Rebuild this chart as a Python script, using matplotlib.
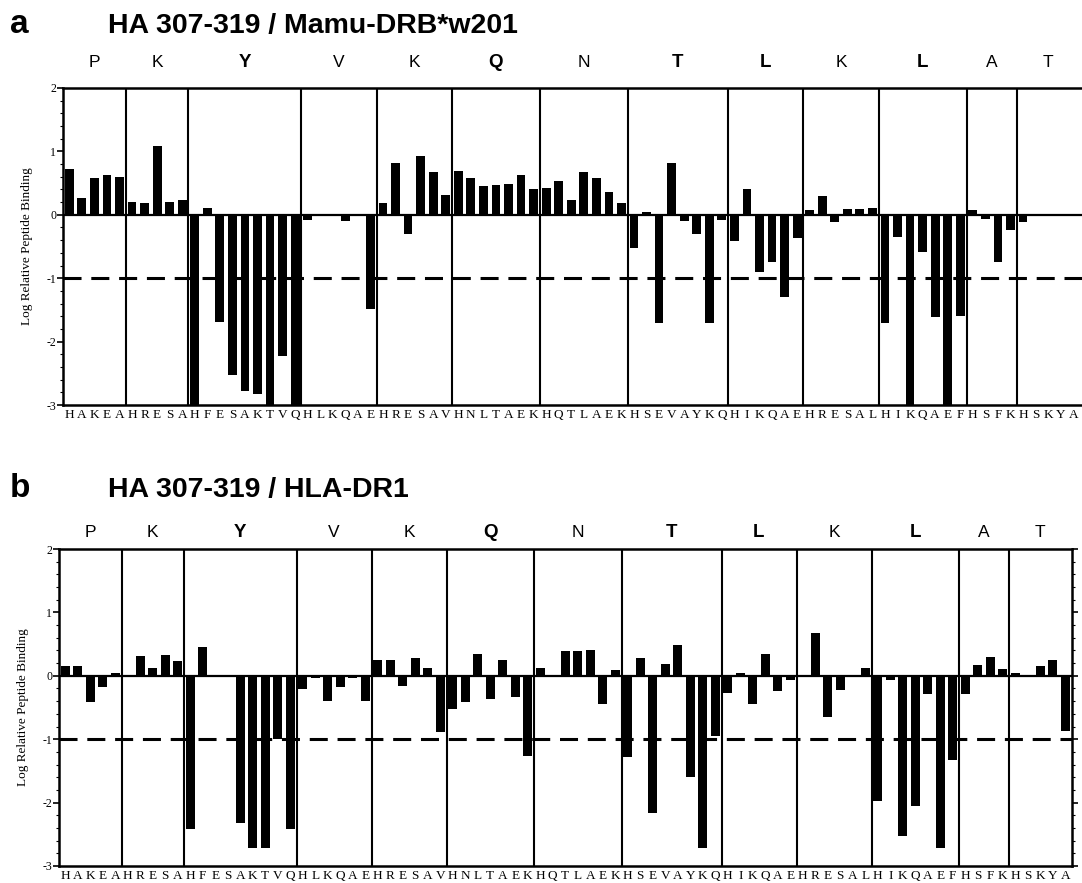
import matplotlib
matplotlib.use("Agg")
import matplotlib.pyplot as plt
import matplotlib.transforms as mtransforms
from matplotlib.ticker import MultipleLocator
import numpy as np

# ---------------- data ----------------
positions = ["P", "K", "Y", "V", "K", "Q", "N", "T", "L", "K", "L", "A", "T"]
anchor_bold = [False, False, True, False, False, True, False, True, True, False, True, False, False]
substitutions = ["HAKEA", "HRESA", "HFESAKTVQ", "HLKQAE", "HRESAV", "HNLTAEK", "HQTLAEK",
                 "HSEVAYKQ", "HIKQAE", "HRESAL", "HIKQAEF", "HSFK", "HSKYA"]

mamu_values = [
    0.73, 0.26, 0.58, 0.62, 0.60,
    0.20, 0.18, 1.09, 0.20, 0.24,
    -3.0, 0.10, -1.69, -2.53, -2.78, -2.83, -3.0, -2.23, -3.0,
    -0.08, 0.0, 0.02, -0.10, 0.0, -1.48,
    0.18, 0.81, -0.31, 0.93, 0.68, 0.32,
    0.69, 0.58, 0.45, 0.47, 0.49, 0.62, 0.41,
    0.43, 0.53, 0.24, 0.68, 0.58, 0.36, 0.18,
    -0.52, 0.05, -1.70, 0.81, -0.10, -0.31, -1.70, -0.08,
    -0.41, 0.41, -0.91, -0.75, -1.30, -0.36,
    0.07, 0.29, -0.11, 0.09, 0.09, 0.11,
    -1.70, -0.35, -3.0, -0.59, -1.61, -3.0, -1.60,
    0.07, -0.06, -0.74, -0.24,
    -0.12, 0.0, 0.02, -0.01, 0.02,
]

dr1_values = [
    0.16, 0.16, -0.41, -0.17, 0.05,
    0.0, 0.31, 0.13, 0.33, 0.24,
    -2.42, 0.46, 0.0, 0.0, -2.32, -2.72, -2.72, -1.0, -2.42,
    -0.21, -0.04, -0.40, -0.18, -0.04, -0.40,
    0.25, 0.25, -0.16, 0.28, 0.13, -0.88,
    -0.52, -0.41, 0.34, -0.36, 0.25, -0.34, -1.26,
    0.13, 0.0, 0.39, 0.39, 0.41, -0.45, 0.09,
    -1.28, 0.28, -2.17, 0.19, 0.49, -1.60, -2.72, -0.95,
    -0.27, 0.05, -0.44, 0.34, -0.24, -0.06,
    0.0, 0.67, -0.65, -0.22, 0.0, 0.13,
    -1.97, -0.06, -2.53, -2.05, -0.29, -2.72, -1.33,
    -0.28, 0.17, 0.30, 0.10,
    0.05, 0.0, 0.16, 0.25, -0.87,
]

panel_letters = ["a", "b"]
panel_titles = ["HA 307-319 / Mamu-DRB*w201", "HA 307-319 / HLA-DR1"]
ylabel_text = "Log Relative Peptide Binding"
threshold = -1.0

# ---------------- figure ----------------
W, H = 1082, 883
fig = plt.figure(figsize=(W / 100, H / 100), dpi=100)

SERIF = ["Liberation Serif", "DejaVu Serif"]
SANS = ["Liberation Sans", "DejaVu Sans"]

def fx(px):
    return px / W

def fy(py):
    return 1 - py / H

letters = list("".join(substitutions))
n = len(letters)
sizes = [len(s) for s in substitutions]
bounds = np.cumsum(sizes)
starts = np.concatenate([[0], bounds[:-1]])
centers = starts + np.array(sizes) / 2.0

geom = [
    dict(left=63, right=1082, top=88, bottom=405, xmax=81.2, right_spine=False, header_px=21,
         title_base=33, ylab_x=33),
    dict(left=59, right=1071.5, top=549, bottom=866, xmax=81.0, right_spine=True, header_px=12,
         title_base=497, ylab_x=29),
]

for k, (vals, g) in enumerate(zip([mamu_values, dr1_values], geom)):
    ax = fig.add_axes([fx(g["left"]), fy(g["bottom"]), fx(g["right"] - g["left"]),
                       (g["bottom"] - g["top"]) / H])
    x = np.arange(n) + 0.5
    ax.bar(x, vals, width=0.7, color="black", edgecolor="black", linewidth=0)
    ax.set_xlim(0, g["xmax"])
    ax.set_ylim(-3, 2)

    ax.axhline(0, color="black", lw=1.6, zorder=3)
    ax.axhline(threshold, color="black", lw=2.2, linestyle=(0, (5.9, 3.2)), zorder=3)

    for b in bounds[:-1]:
        ax.axvline(b, color="black", lw=1.5, zorder=3)

    for side in ["top", "bottom", "left"]:
        ax.spines[side].set_linewidth(1.8)
    ax.spines["right"].set_visible(g["right_spine"])
    ax.spines["right"].set_linewidth(1.8)

    ax.yaxis.set_major_locator(MultipleLocator(1))
    ax.yaxis.set_minor_locator(MultipleLocator(0.2))
    ax.tick_params(axis="y", which="major", direction="out", length=4, width=1.2,
                   labelsize=8.5, pad=1, right=g["right_spine"])
    ax.tick_params(axis="y", which="minor", direction="out", length=2, width=0.8,
                   right=g["right_spine"])
    ax.set_yticks([2, 1, 0, -1, -2, -3])
    ax.set_yticklabels(["2", "1", "0", "-1", "-2", "-3"], family=SERIF, fontsize=8.5)

    ax.set_xticks(x)
    ax.set_xticklabels(letters, family=SERIF, fontsize=9.5)
    ax.tick_params(axis="x", length=0, pad=3)

    ax.set_ylabel(ylabel_text, family=SERIF, fontsize=9.5)
    ax.yaxis.set_label_coords(fx(g["ylab_x"] - g["left"]) / fx(g["right"] - g["left"]), 0.5)

    trans = mtransforms.blended_transform_factory(ax.transData, ax.transAxes)
    hy = 1 + g["header_px"] / (g["bottom"] - g["top"])
    for c, p, bold in zip(centers, positions, anchor_bold):
        ax.text(c, hy, p, transform=trans, ha="center", va="baseline",
                family=SANS, fontsize=13.5 if bold else 12.5,
                fontweight="bold" if bold else "normal")

    fig.text(fx(10), fy(g["title_base"]), panel_letters[k], family=SANS, fontsize=24,
             fontweight="bold", va="baseline", ha="left")
    fig.text(fx(108), fy(g["title_base"]), panel_titles[k], family=SANS, fontsize=20.5,
             fontweight="bold", va="baseline", ha="left")

fig.savefig("out.png", dpi=100, facecolor="white")
